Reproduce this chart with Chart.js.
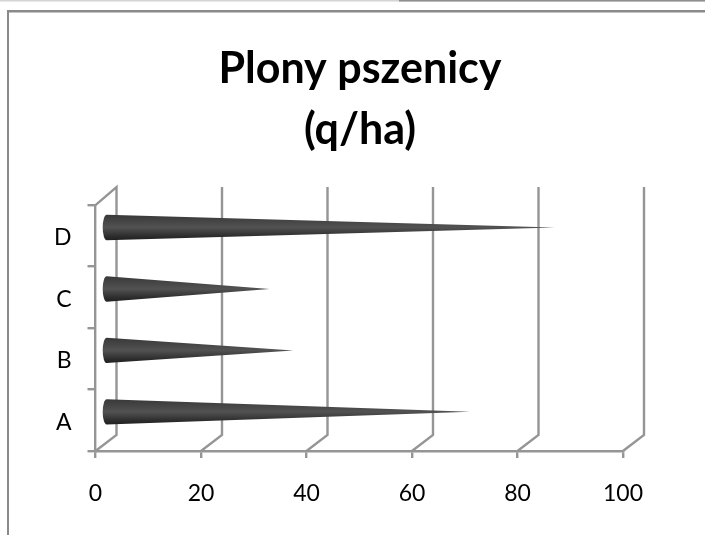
<!DOCTYPE html>
<html>
<head>
<meta charset="utf-8">
<title>Plony pszenicy</title>
<script src="https://cdn.jsdelivr.net/npm/chart.js@4"></script>
<style>
  html, body { margin: 0; padding: 0; background: #fff; }
  canvas { display: block; }
</style>
</head>
<body>
<canvas id="coneChart" width="705" height="535"></canvas>
<script>
const titleLines = ['Plony pszenicy', '(q/ha)'];
const categories = ['A', 'B', 'C', 'D'];
const yields = [69, 35.5, 31, 85];
const xTicks = [0, 20, 40, 60, 80, 100];

const lineGrey = '#959595';
const depthX = 21;   // how far the back wall sits from the front axis
const depthY = 16;

// outer frame of the pasted chart + scrap of page above it
const frame = {
  id: 'frame',
  // title is centred on the whole frame, not on the plot
  afterLayout(chart) {
    chart.titleBlock.left = 15;
    chart.titleBlock.right = 705;
  },
  beforeDraw(chart) {
    const c = chart.ctx;
    c.save();
    c.fillStyle = '#d4d4d4';
    c.fillRect(0, 0, 705, 1.5);
    c.fillStyle = '#8f8f8f';
    c.fillRect(399, 0, 306, 1.5);
    c.fillStyle = '#8a8a8a';
    c.fillRect(7, 10, 698, 2.5);
    c.fillRect(7, 10, 2, 525);
    c.restore();
  }
};

// back wall and floor lines of the 3d box
const walls = {
  id: 'walls',
  beforeDatasetsDraw(chart) {
    const c = chart.ctx, x = chart.scales.x, a = chart.chartArea;
    c.save();
    c.strokeStyle = lineGrey;
    c.lineWidth = 2.4;
    xTicks.forEach(t => {
      const px = x.getPixelForValue(t);
      c.beginPath();
      c.moveTo(px, a.bottom);
      c.lineTo(px + depthX, a.bottom - depthY);
      c.lineTo(px + depthX, a.top - 18);
      if (t === 0) c.lineTo(px, a.top);
      c.stroke();
    });
    c.restore();
  }
};

// each bar is drawn as a cone lying on its side
const cones = {
  id: 'cones',
  afterDatasetsDraw(chart) {
    const c = chart.ctx;
    chart.getDatasetMeta(0).data.forEach(bar => {
      const cy = bar.y - 8.4;
      const tip = bar.x + 10.5;
      const baseX = bar.base + 10;
      const r = 12.7;
      const g = c.createLinearGradient(0, cy - r, 0, cy + r);
      g.addColorStop(0, '#383838');
      g.addColorStop(0.5, '#525252');
      g.addColorStop(0.85, '#2c2c2c');
      g.addColorStop(1, '#202020');
      c.save();
      c.fillStyle = g;
      c.beginPath();
      c.moveTo(tip, cy);
      c.lineTo(baseX, cy + r);
      c.ellipse(baseX, cy, 4, r, 0, Math.PI / 2, Math.PI * 1.5);
      c.closePath();
      c.fill();
      c.restore();
    });
  }
};

new Chart(document.getElementById('coneChart'), {
  type: 'bar',
  data: {
    labels: categories,
    datasets: [{
      label: 'Plony',
      data: yields,
      backgroundColor: 'rgba(0,0,0,0)',
      borderWidth: 0
    }]
  },
  plugins: [frame, walls, cones],
  options: {
    indexAxis: 'y',
    responsive: false,
    maintainAspectRatio: false,
    animation: false,
    layout: { padding: { left: 0, right: 82, top: 0, bottom: 0 } },
    plugins: {
      legend: { display: false },
      tooltip: { enabled: false },
      title: {
        display: true,
        text: titleLines,
        color: '#000',
        font: { family: 'Lato', size: 43, weight: 'bold', lineHeight: 1.42 },
        padding: { top: 39, bottom: 44 },
        align: 'center'
      }
    },
    scales: {
      x: {
        min: 0,
        max: 100,
        afterBuildTicks(s) { s.ticks = xTicks.map(v => ({ value: v })); },
        afterFit(s) { s.height = 84; },
        border: { color: lineGrey, width: 2.4 },
        grid: { drawOnChartArea: false, color: lineGrey, lineWidth: 2.4, tickLength: 7 },
        ticks: { color: '#000', font: { family: 'Lato', size: 23 }, padding: 22, maxRotation: 0 }
      },
      y: {
        reverse: true,
        afterFit(s) { s.width = 95.5; },
        border: { color: lineGrey, width: 2.4 },
        grid: { drawOnChartArea: false, color: lineGrey, lineWidth: 2.4, tickLength: 8 },
        ticks: { color: '#000', font: { family: 'Lato', size: 23 }, padding: 16, labelOffset: 2 }
      }
    }
  }
});
</script>
</body>
</html>
